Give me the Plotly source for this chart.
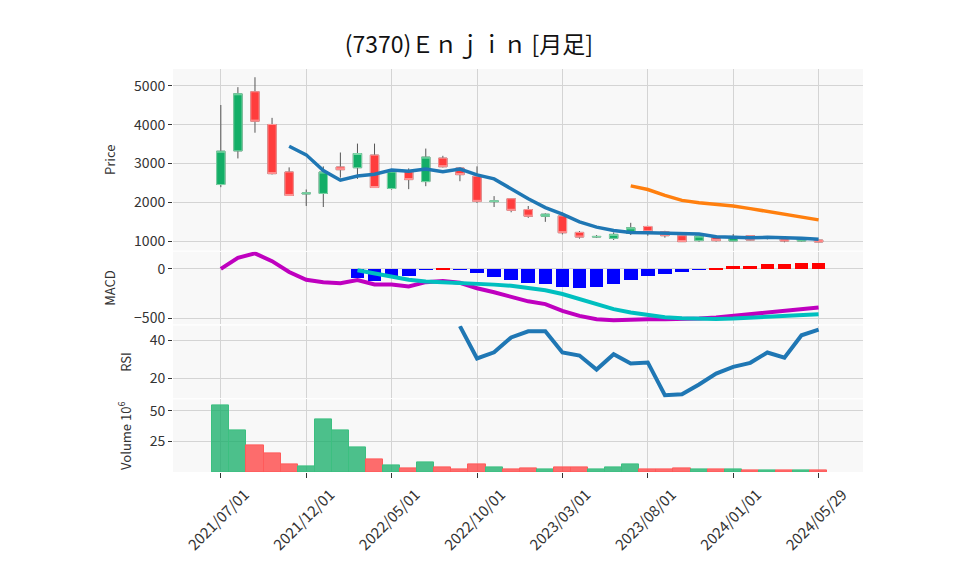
import plotly.graph_objects as go
from plotly.subplots import make_subplots

# monthly bars, (7370) Enjin
dates = [
    "2021/07/01", "2021/08/01", "2021/09/01", "2021/10/01", "2021/11/01", "2021/12/01",
    "2022/01/01", "2022/02/01", "2022/03/01", "2022/04/01", "2022/05/01", "2022/06/01",
    "2022/07/01", "2022/08/01", "2022/09/01", "2022/10/01", "2022/11/01", "2022/12/01",
    "2023/01/01", "2023/02/01", "2023/03/01", "2023/04/01", "2023/05/01", "2023/06/01",
    "2023/07/01", "2023/08/01", "2023/09/01", "2023/10/01", "2023/11/01", "2023/12/01",
    "2024/01/01", "2024/02/01", "2024/03/01", "2024/04/01", "2024/05/01", "2024/05/29",
]
open_ = [2461, 3327, 4847, 4006, 2784, 2220, 2232, 2911, 2894, 3217, 2359, 2792,
         2537, 3140, 2885, 2673, 2020, 2096, 1816, 1646, 1654, 1229, 1110, 1076,
         1204, 1382, 1246, 1145, 1018, 1100, 1010, 1145, 1080, 1069, 1008, 1033]
high = [4507, 4966, 5221, 4176, 2902, 2333, 2928, 3285, 3514, 3514, 2860, 2877,
        3386, 3200, 2900, 2928, 2163, 2100, 1909, 1720, 1739, 1263, 1160, 1229,
        1476, 1400, 1270, 1160, 1140, 1160, 1186, 1150, 1090, 1093, 1075, 1040]
low = [2393, 3132, 3794, 2720, 2180, 1909, 1883, 2639, 2605, 2384, 2330, 2342,
       2418, 2900, 2546, 1985, 1883, 1747, 1603, 1501, 1178, 1068, 1085, 1034,
       1162, 1145, 1094, 992, 990, 995, 1000, 1025, 1050, 975, 995, 980]
close = [3318, 4796, 4091, 2741, 2180, 2245, 2784, 2843, 3259, 2384, 2809, 2588,
         3166, 2919, 2716, 2028, 2040, 1798, 1646, 1697, 1221, 1110, 1125, 1178,
         1348, 1246, 1145, 992, 1135, 1018, 1125, 1033, 1075, 1008, 1059, 982]

sma_short = [None] * 4 + [3446, 3225, 2818, 2571, 2682, 2724, 2835, 2801, 2861, 2793,
                          2861, 2708, 2606, 2350, 2096, 1867, 1697, 1501, 1365, 1280,
                          1229, 1221, 1212, 1204, 1187, 1119, 1102, 1093, 1102, 1093,
                          1076, 1051]
sma_long = [None] * 24 + [2427, 2333, 2181, 2053, 1994, 1951, 1909, 1841, 1773, 1688,
                          1637, 1552]

macd = [0, 112, 156, 78, -31, -109, -133, -143, -112, -156, -156, -177,
        -133, -122, -139, -194, -235, -279, -326, -354, -422, -473, -507, -517,
        -510, -507, -507, -507, -500, -490, -473, -459, -439, -425, -408, -388]
signal = [None] * 8 + [-14, -48, -82, -109, -126, -133, -136, -146, -158, -170,
                       -190, -214, -252, -303, -354, -405, -439, -466, -486, -497,
                       -503, -503, -500, -493, -483, -476, -466, -456]
hist = [None] * 8 + [-85, -116, -65, -65, -7, 5, -2, -41, -75, -105,
                     -136, -146, -180, -187, -177, -146, -105, -65, -44, -24,
                     -7, 10, 34, 34, 54, 54, 65, 65]

rsi = [None] * 14 + [47.3, 30.4, 33.6, 41.4, 44.6, 44.6, 33.5, 31.9, 24.6, 32.6,
                     27.8, 28.3, 11.2, 11.7, 16.8, 22.5, 26.0, 28.1, 33.5, 30.8,
                     42.5, 45.5]

volume = [54.0, 34.1, 22.0, 14.8, 5.9, 4.3, 43.0, 34.1, 20.4, 9.9, 5.1, 2.7,
          7.5, 3.5, 1.9, 5.9, 3.5, 1.9, 2.7, 1.9, 3.5, 3.5, 1.9, 3.5,
          5.9, 1.9, 1.9, 2.7, 1.9, 1.9, 1.9, 1.1, 1.1, 1.1, 1.1, 1.1]

tick_dates = dates[::5]

UP = "#13ae67"
DOWN = "#ff3d3d"
FONT = "Noto Sans CJK JP"

fig = make_subplots(rows=4, cols=1, shared_xaxes=True,
                    row_heights=[2.5, 1, 1, 1], vertical_spacing=0.003)

# wicks
fig.add_trace(go.Candlestick(
    x=dates, open=open_, high=high, low=low, close=close,
    increasing=dict(line=dict(color="#555555", width=1), fillcolor=UP),
    decreasing=dict(line=dict(color="#555555", width=1), fillcolor=DOWN),
    showlegend=False,
), row=1, col=1)
# bodies on top so the outline is coloured, not grey
fig.add_trace(go.Candlestick(
    x=dates, open=open_, close=close,
    high=[max(o, c) for o, c in zip(open_, close)],
    low=[min(o, c) for o, c in zip(open_, close)],
    increasing=dict(line=dict(color="#7fd6a8", width=1), fillcolor=UP),
    decreasing=dict(line=dict(color="#ff9a9a", width=1), fillcolor=DOWN),
    showlegend=False,
), row=1, col=1)

fig.add_trace(go.Scatter(x=dates, y=sma_short, mode="lines",
                         line=dict(color="#1f77b4", width=3.5), showlegend=False),
              row=1, col=1)
fig.add_trace(go.Scatter(x=dates, y=sma_long, mode="lines",
                         line=dict(color="#ff7f0e", width=3.5), showlegend=False),
              row=1, col=1)

# MACD
hist_colors = ["#0000ff" if (h is not None and h < 0) else "#ff0000" for h in hist]
fig.add_trace(go.Bar(x=dates, y=hist, width=0.8, marker_color=hist_colors,
                     marker_line_width=0, showlegend=False), row=2, col=1)
fig.add_trace(go.Scatter(x=dates, y=macd, mode="lines",
                         line=dict(color="#bf00bf", width=4), showlegend=False),
              row=2, col=1)
fig.add_trace(go.Scatter(x=dates, y=signal, mode="lines",
                         line=dict(color="#00bfbf", width=4), showlegend=False),
              row=2, col=1)

# RSI
fig.add_trace(go.Scatter(x=dates, y=rsi, mode="lines",
                         line=dict(color="#1f77b4", width=4), showlegend=False),
              row=3, col=1)

# volume, coloured by close vs previous close
vol_up = [True] + [close[i] >= close[i - 1] for i in range(1, len(close))]
fig.add_trace(go.Bar(
    x=dates, y=volume, width=1.0,
    marker=dict(color=["rgba(19,174,103,0.75)" if u else "rgba(255,61,61,0.75)" for u in vol_up],
                line=dict(color=["#3cbf80" if u else "#ff5a5a" for u in vol_up], width=1)),
    showlegend=False,
), row=4, col=1)

grid = "#d4d4d4"
fig.update_xaxes(type="category", range=[-2.8, 37.6], rangeslider_visible=False,
                 tickvals=tick_dates, showgrid=True, gridcolor=grid, gridwidth=1,
                 showticklabels=False, zeroline=False)
# labels centred on their ticks rather than ending at them
fig.update_xaxes(showticklabels=True, tickangle=-45, ticks="outside", ticklen=5,
                 tickcolor="#333", tickfont=dict(size=15, color="#333"),
                 ticklabelshift=24, ticklabelstandoff=2, row=4, col=1)
fig.update_yaxes(showgrid=True, gridcolor=grid, gridwidth=1, zeroline=False,
                 ticks="outside", ticklen=4, tickcolor="#333",
                 tickfont=dict(size=14, color="#333"),
                 title_font=dict(size=13, color="#333"))
fig.update_yaxes(title_text="Price", range=[763, 5433], tickvals=[1000, 2000, 3000, 4000, 5000],
                 row=1, col=1)
fig.update_yaxes(title_text="MACD", range=[-558, 173], tickvals=[-500, 0], row=2, col=1)
fig.update_yaxes(title_text="RSI", range=[9.6, 47.6], tickvals=[20, 40], row=3, col=1)
fig.update_yaxes(title_text="Volume 10<sup>6</sup>", range=[0, 59.2], tickvals=[25, 50],
                 row=4, col=1)

fig.update_layout(
    width=958, height=575,
    title=dict(text="(7370)Ｅｎｊｉｎ [月足]", x=0.481, xanchor="center", y=0.936,
               yanchor="middle", font=dict(family=FONT, size=23, color="#111")),
    font=dict(family=FONT, color="#333"),
    plot_bgcolor="#f8f8f8", paper_bgcolor="white",
    margin=dict(l=165, r=103, t=61, b=111),
    barmode="overlay", bargap=0,
    showlegend=False,
)

fig.write_html("out.html")
